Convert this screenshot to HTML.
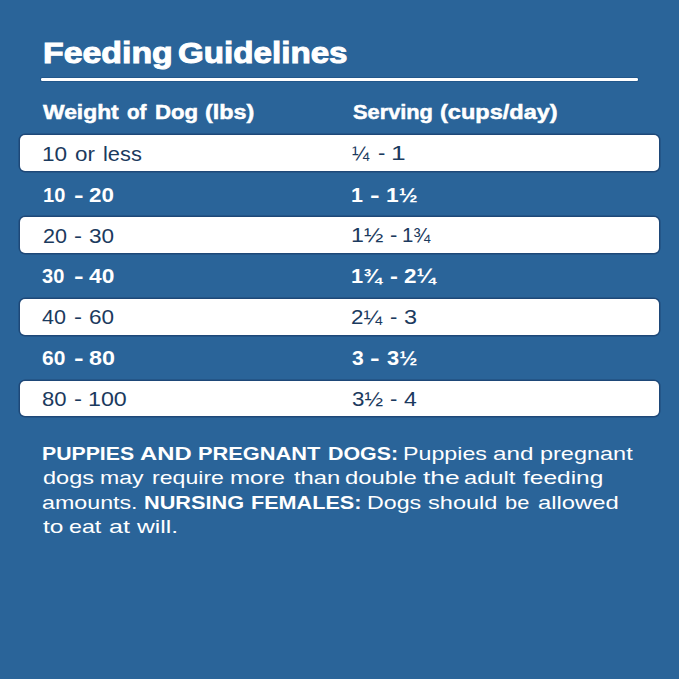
<!DOCTYPE html>
<html><head><meta charset="utf-8">
<style>
html,body{margin:0;padding:0;}
body{width:679px;height:679px;background:#2a6499;position:relative;overflow:hidden;font-family:"Liberation Sans",sans-serif;}
.t{position:absolute;white-space:nowrap;line-height:1;transform-origin:0 0;}
.b{font-weight:bold;}
.row{position:absolute;left:20px;width:639px;height:35.6px;border-radius:5px;background:#fff;box-shadow:0 0 0 1.5px #1e4878;}
#rule{position:absolute;left:40.5px;top:78.4px;width:597.5px;height:2.7px;background:#fff;border-radius:1.3px;box-shadow:0 0 0 1px #22578b;}
</style></head><body>
<div class="row" style="top:135.4px"></div>
<div class="row" style="top:217.2px"></div>
<div class="row" style="top:299.0px"></div>
<div class="row" style="top:380.8px"></div>
<div id="rule"></div>
<div class="t b" id="t0" style="left:42.87px;top:38.10px;font-size:30px;color:#fff;transform:scaleX(1.1284);-webkit-text-stroke:1.0px #fff;">Feeding</div>
<div class="t b" id="t1" style="left:178.34px;top:38.10px;font-size:30px;color:#fff;transform:scaleX(1.1053);-webkit-text-stroke:1.0px #fff;">Guidelines</div>
<div class="t b" id="h1_0" style="left:43.00px;top:102.15px;font-size:20px;color:#fff;transform:scaleX(1.1421);-webkit-text-stroke:0.5px #fff;">Weight</div>
<div class="t b" id="h1_1" style="left:126.79px;top:102.15px;font-size:20px;color:#fff;transform:scaleX(1.0311);-webkit-text-stroke:0.5px #fff;">of</div>
<div class="t b" id="h1_2" style="left:154.89px;top:102.15px;font-size:20px;color:#fff;transform:scaleX(1.1081);-webkit-text-stroke:0.5px #fff;">Dog</div>
<div class="t b" id="h1_3" style="left:205.34px;top:102.15px;font-size:20px;color:#fff;transform:scaleX(1.1678);-webkit-text-stroke:0.5px #fff;">(lbs)</div>
<div class="t b" id="h2_0" style="left:353.00px;top:102.15px;font-size:20px;color:#fff;transform:scaleX(1.0894);-webkit-text-stroke:0.5px #fff;">Serving</div>
<div class="t b" id="h2_1" style="left:439.90px;top:102.15px;font-size:20px;color:#fff;transform:scaleX(1.1769);-webkit-text-stroke:0.5px #fff;">(cups/day)</div>
<div class="t" id="r1a0" style="left:42.04px;top:144.10px;font-size:20px;color:#1b3a5e;transform:scaleX(1.1288);">10</div>
<div class="t" id="r1a1" style="left:74.69px;top:144.10px;font-size:20px;color:#1b3a5e;transform:scaleX(1.1196);">or</div>
<div class="t" id="r1a2" style="left:102.85px;top:144.10px;font-size:20px;color:#1b3a5e;transform:scaleX(1.0914);">less</div>
<div class="t" id="r1b0" style="left:352.18px;top:143.10px;font-size:20px;color:#1b3a5e;transform:scaleX(1.0316);">¼</div>
<div class="t" id="r1b1" style="left:378.27px;top:143.10px;font-size:20px;color:#1b3a5e;transform:scaleX(1.1033);">-</div>
<div class="t" id="r1b2" style="left:390.68px;top:143.10px;font-size:20px;color:#1b3a5e;transform:scaleX(1.3188);">1</div>
<div class="t b" id="r2a0" style="left:43.17px;top:184.80px;font-size:20px;color:#fff;transform:scaleX(1.0023);">10</div>
<div class="t b" id="r2a1" style="left:73.73px;top:184.80px;font-size:20px;color:#fff;transform:scaleX(1.4390);">-</div>
<div class="t b" id="r2a2" style="left:89.32px;top:184.80px;font-size:20px;color:#fff;transform:scaleX(1.1177);">20</div>
<div class="t b" id="r2b0" style="left:351.10px;top:184.80px;font-size:20px;color:#fff;transform:scaleX(1.0745);">1</div>
<div class="t b" id="r2b1" style="left:370.33px;top:184.80px;font-size:20px;color:#fff;transform:scaleX(1.4390);">-</div>
<div class="t b" id="r2b2" style="left:385.86px;top:184.80px;font-size:20px;color:#fff;transform:scaleX(1.1353);">1½</div>
<div class="t" id="r3a0" style="left:43.08px;top:225.80px;font-size:20px;color:#1b3a5e;transform:scaleX(1.0775);">20</div>
<div class="t" id="r3a1" style="left:73.80px;top:225.80px;font-size:20px;color:#1b3a5e;transform:scaleX(1.2000);">-</div>
<div class="t" id="r3a2" style="left:89.27px;top:225.80px;font-size:20px;color:#1b3a5e;transform:scaleX(1.1271);">30</div>
<div class="t" id="r3b0" style="left:350.92px;top:225.30px;font-size:20px;color:#1b3a5e;transform:scaleX(1.1608);">1½</div>
<div class="t" id="r3b1" style="left:390.03px;top:225.30px;font-size:20px;color:#1b3a5e;transform:scaleX(1.1033);">-</div>
<div class="t" id="r3b2" style="left:402.15px;top:225.30px;font-size:20px;color:#1b3a5e;transform:scaleX(1.0200);">1¾</div>
<div class="t b" id="r4a0" style="left:42.40px;top:266.40px;font-size:20px;color:#fff;transform:scaleX(1.0009);">30</div>
<div class="t b" id="r4a1" style="left:73.73px;top:266.40px;font-size:20px;color:#fff;transform:scaleX(1.4390);">-</div>
<div class="t b" id="r4a2" style="left:89.00px;top:266.40px;font-size:20px;color:#fff;transform:scaleX(1.1375);">40</div>
<div class="t b" id="r4b0" style="left:351.26px;top:265.90px;font-size:20px;color:#fff;transform:scaleX(1.0905);">1¾</div>
<div class="t b" id="r4b1" style="left:390.12px;top:265.90px;font-size:20px;color:#fff;transform:scaleX(1.1832);">-</div>
<div class="t b" id="r4b2" style="left:404.17px;top:265.90px;font-size:20px;color:#fff;transform:scaleX(1.1217);">2¼</div>
<div class="t" id="r5a0" style="left:42.30px;top:307.00px;font-size:20px;color:#1b3a5e;transform:scaleX(1.0769);">40</div>
<div class="t" id="r5a1" style="left:73.80px;top:307.00px;font-size:20px;color:#1b3a5e;transform:scaleX(1.2000);">-</div>
<div class="t" id="r5a2" style="left:89.27px;top:307.00px;font-size:20px;color:#1b3a5e;transform:scaleX(1.1271);">60</div>
<div class="t" id="r5b0" style="left:351.21px;top:306.50px;font-size:20px;color:#1b3a5e;transform:scaleX(1.1183);">2¼</div>
<div class="t" id="r5b1" style="left:390.03px;top:306.50px;font-size:20px;color:#1b3a5e;transform:scaleX(1.1033);">-</div>
<div class="t" id="r5b2" style="left:404.04px;top:306.50px;font-size:20px;color:#1b3a5e;transform:scaleX(1.1722);">3</div>
<div class="t b" id="r6a0" style="left:42.34px;top:347.80px;font-size:20px;color:#fff;transform:scaleX(1.0485);">60</div>
<div class="t b" id="r6a1" style="left:73.73px;top:347.80px;font-size:20px;color:#fff;transform:scaleX(1.4390);">-</div>
<div class="t b" id="r6a2" style="left:88.90px;top:347.80px;font-size:20px;color:#fff;transform:scaleX(1.1679);">80</div>
<div class="t b" id="r6b0" style="left:352.35px;top:347.80px;font-size:20px;color:#fff;transform:scaleX(1.0550);">3</div>
<div class="t b" id="r6b1" style="left:370.33px;top:347.80px;font-size:20px;color:#fff;transform:scaleX(1.4390);">-</div>
<div class="t b" id="r6b2" style="left:387.00px;top:347.80px;font-size:20px;color:#fff;transform:scaleX(1.0932);">3½</div>
<div class="t" id="r7a0" style="left:42.29px;top:389.20px;font-size:20px;color:#1b3a5e;transform:scaleX(1.1021);">80</div>
<div class="t" id="r7a1" style="left:73.80px;top:389.20px;font-size:20px;color:#1b3a5e;transform:scaleX(1.2000);">-</div>
<div class="t" id="r7a2" style="left:88.07px;top:389.20px;font-size:20px;color:#1b3a5e;transform:scaleX(1.1618);">100</div>
<div class="t" id="r7b0" style="left:352.10px;top:389.20px;font-size:20px;color:#1b3a5e;transform:scaleX(1.1162);">3½</div>
<div class="t" id="r7b1" style="left:390.03px;top:389.20px;font-size:20px;color:#1b3a5e;transform:scaleX(1.1033);">-</div>
<div class="t" id="r7b2" style="left:404.29px;top:389.20px;font-size:20px;color:#1b3a5e;transform:scaleX(1.1509);">4</div>
<div class="t b" id="w0_0" style="left:42.05px;top:444.10px;font-size:19px;color:#fff;transform:scaleX(1.1182);">PUPPIES</div>
<div class="t b" id="w0_1" style="left:139.92px;top:444.10px;font-size:19px;color:#fff;transform:scaleX(1.2528);">AND</div>
<div class="t b" id="w0_2" style="left:198.49px;top:444.10px;font-size:19px;color:#fff;transform:scaleX(1.1484);">PREGNANT</div>
<div class="t b" id="w0_3" style="left:328.46px;top:444.10px;font-size:19px;color:#fff;transform:scaleX(1.1261);">DOGS:</div>
<div class="t" id="w0_4" style="left:403.12px;top:444.10px;font-size:19px;color:#fff;transform:scaleX(1.2220);">Puppies</div>
<div class="t" id="w0_5" style="left:493.30px;top:444.10px;font-size:19px;color:#fff;transform:scaleX(1.2740);">and</div>
<div class="t" id="w0_6" style="left:539.91px;top:444.10px;font-size:19px;color:#fff;transform:scaleX(1.2354);">pregnant</div>
<div class="t" id="w1_0" style="left:42.99px;top:468.40px;font-size:19px;color:#fff;transform:scaleX(1.2391);">dogs</div>
<div class="t" id="w1_1" style="left:99.54px;top:468.40px;font-size:19px;color:#fff;transform:scaleX(1.2128);">may</div>
<div class="t" id="w1_2" style="left:152.06px;top:468.40px;font-size:19px;color:#fff;transform:scaleX(1.2163);">require</div>
<div class="t" id="w1_3" style="left:230.48px;top:468.40px;font-size:19px;color:#fff;transform:scaleX(1.2690);">more</div>
<div class="t" id="w1_4" style="left:293.54px;top:468.40px;font-size:19px;color:#fff;transform:scaleX(1.2512);">than</div>
<div class="t" id="w1_5" style="left:344.79px;top:468.40px;font-size:19px;color:#fff;transform:scaleX(1.2564);">double</div>
<div class="t" id="w1_6" style="left:422.70px;top:468.40px;font-size:19px;color:#fff;transform:scaleX(1.3886);">the</div>
<div class="t" id="w1_7" style="left:464.10px;top:468.40px;font-size:19px;color:#fff;transform:scaleX(1.2437);">adult</div>
<div class="t" id="w1_8" style="left:523.48px;top:468.40px;font-size:19px;color:#fff;transform:scaleX(1.2890);">feeding</div>
<div class="t" id="w2_0" style="left:42.00px;top:492.70px;font-size:19px;color:#fff;transform:scaleX(1.2230);">amounts.</div>
<div class="t b" id="w2_1" style="left:143.74px;top:492.70px;font-size:19px;color:#fff;transform:scaleX(1.1425);">NURSING</div>
<div class="t b" id="w2_2" style="left:251.08px;top:492.70px;font-size:19px;color:#fff;transform:scaleX(1.1371);">FEMALES:</div>
<div class="t" id="w2_3" style="left:367.04px;top:492.70px;font-size:19px;color:#fff;transform:scaleX(1.2228);">Dogs</div>
<div class="t" id="w2_4" style="left:428.03px;top:492.70px;font-size:19px;color:#fff;transform:scaleX(1.2397);">should</div>
<div class="t" id="w2_5" style="left:505.09px;top:492.70px;font-size:19px;color:#fff;transform:scaleX(1.1482);">be</div>
<div class="t" id="w2_6" style="left:537.59px;top:492.70px;font-size:19px;color:#fff;transform:scaleX(1.2550);">allowed</div>
<div class="t" id="w3_0" style="left:43.07px;top:517.00px;font-size:19px;color:#fff;transform:scaleX(1.2887);">to</div>
<div class="t" id="w3_1" style="left:69.26px;top:517.00px;font-size:19px;color:#fff;transform:scaleX(1.2223);">eat</div>
<div class="t" id="w3_2" style="left:108.94px;top:517.00px;font-size:19px;color:#fff;transform:scaleX(1.3175);">at</div>
<div class="t" id="w3_3" style="left:136.95px;top:517.00px;font-size:19px;color:#fff;transform:scaleX(1.2976);">will.</div>
</body></html>
